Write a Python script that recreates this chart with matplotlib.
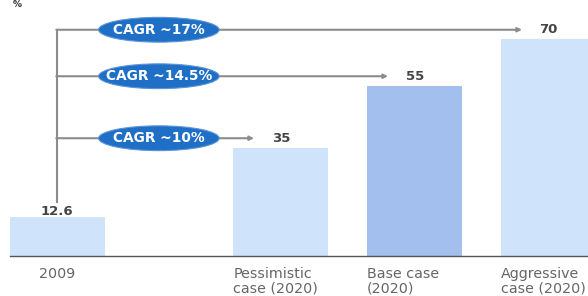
import matplotlib.pyplot as plt
from matplotlib.patches import Ellipse

# data
labels = ["2009", "Pessimistic\ncase (2020)", "Base case\n(2020)", "Aggressive\ncase (2020)"]
values = [12.6, 35, 55, 70]
positions = [0, 1.67, 2.67, 3.67]
colors = ["#cfe3fb", "#cfe3fb", "#a3bfee", "#cfe3fb"]
cagr = ["CAGR ~10%", "CAGR ~14.5%", "CAGR ~17%"]


def main():
    plt.rcParams['font.family'] = ['DejaVu Sans']
    fig = plt.figure(figsize=(5.88, 2.96), dpi=100)
    ax = fig.add_axes([10 / 588, 40 / 296, 578 / 588, 256 / 296])

    width = 0.71
    ax.bar(positions, values, width=width, color=colors, zorder=1)
    ax.set_xlim(-0.351, 3.963)
    ax.set_ylim(0, 82.6)

    for s in ['top', 'right', 'left']:
        ax.spines[s].set_visible(False)
    ax.spines['bottom'].set_color('#555555')
    ax.spines['bottom'].set_linewidth(1.0)
    ax.set_yticks([])
    ax.set_xticks([])

    # category labels: first centred, the others left-aligned at bar edge
    for i, (x, lab) in enumerate(zip(positions, labels)):
        if i == 0:
            ax.text(x, -3.7, lab, ha='center', va='top', fontsize=10.3,
                    color='#666666', clip_on=False)
        else:
            ax.text(x - width / 2, -3.5, lab, ha='left', va='top', fontsize=10.3,
                    color='#666666', linespacing=1.08, clip_on=False)

    # value labels
    for x, v in zip(positions, values):
        off = 3 if x > 0 else 1.9
        ax.text(x, v + off, f"{v:g}", ha='center', va='center', fontsize=9.5,
                fontweight='bold', color='#444444')

    # CAGR brackets
    line_c = '#8c8c8c'
    x0 = positions[0]
    top_y = values[-1] + 3
    ax.plot([x0, x0], [values[0] + 4.8, top_y], color=line_c, lw=1.5, zorder=2)
    for x, v, txt in zip(positions[1:], values[1:], cagr):
        y = v + 3
        ax.annotate('', xy=(x - 0.2, y), xytext=(x0 - 0.0055, y),
                    arrowprops=dict(arrowstyle='-|>', color=line_c, lw=1.5,
                                    mutation_scale=6, shrinkA=0, shrinkB=0),
                    zorder=2)
        ax.add_patch(Ellipse((0.76, y), 0.9, 8.0, facecolor='#1f6fc6',
                             edgecolor='#5a95d8', lw=0.8, zorder=3))
        ax.text(0.76, y, txt, ha='center', va='center', fontsize=9.9,
                fontweight='bold', color='white', zorder=4)

    fig.text(13 / 588, 1.0, '%', fontsize=6.5, fontweight='bold',
             color='#333333', va='top')

    fig.savefig('out.png', dpi=100)


if __name__ == "__main__":
    main()
